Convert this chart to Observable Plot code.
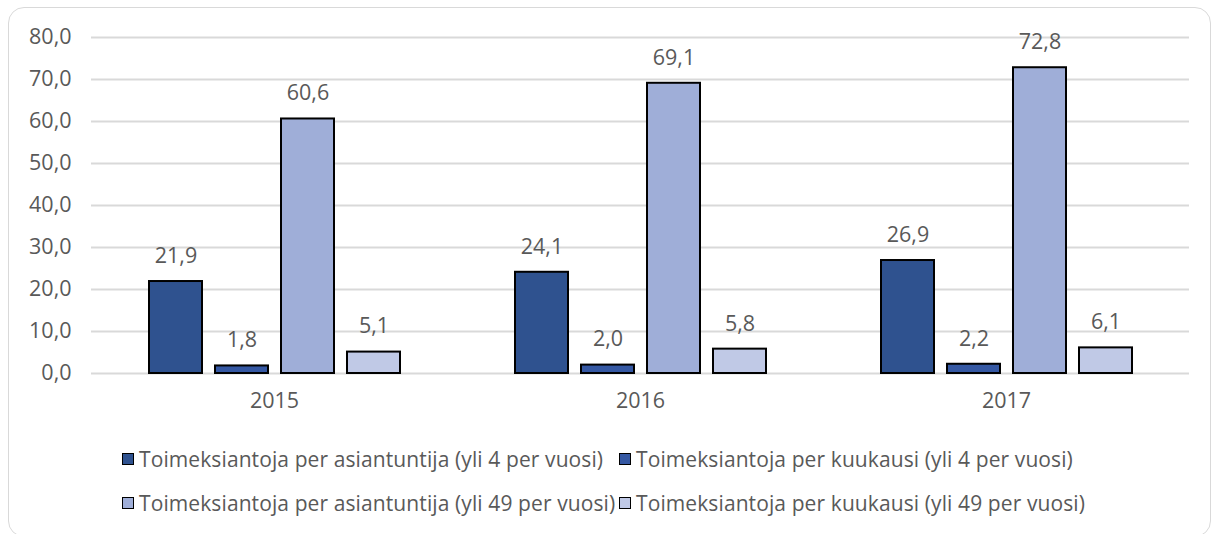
<!DOCTYPE html>
<html>
<head>
<meta charset="utf-8">
<script src="https://cdn.jsdelivr.net/npm/d3@7"></script>
<script src="https://cdn.jsdelivr.net/npm/@observablehq/plot@0.6"></script>
<style>
  html, body { margin: 0; padding: 0; background: #fff; }
  body { width: 1215px; height: 534px; position: relative; overflow: hidden; font-family: "Open Sans", sans-serif; }
  #card { position: absolute; left: 8px; top: 7px; width: 1203px; height: 530px; border: 1.5px solid #d9d9d9; border-radius: 16px; box-sizing: border-box; }
  #chart { position: absolute; left: 0; top: 0; }
  #legend { position: absolute; left: 122px; top: 446px; display: grid; grid-template-columns: 497px auto; row-gap: 18px; color: #595959; font-size: 21px; letter-spacing: 0.1px; line-height: 26px; }
  .item { display: flex; align-items: center; white-space: nowrap; }
  .sw { width: 10px; height: 10px; border: 1.7px solid #000; margin-right: 5px; flex: none; }
</style>
</head>
<body>
<div id="card"></div>
<div id="chart"></div>
<div id="legend"></div>
<script>
const years = ["2015", "2016", "2017"];
const seriesNames = [
  "Toimeksiantoja per asiantuntija (yli 4 per vuosi)",
  "Toimeksiantoja per kuukausi (yli 4 per vuosi)",
  "Toimeksiantoja per asiantuntija (yli 49 per vuosi)",
  "Toimeksiantoja per kuukausi (yli 49 per vuosi)"
];
const s1 = [21.9, 24.1, 26.9];
const s2 = [1.8, 2.0, 2.2];
const s3 = [60.6, 69.1, 72.8];
const s4 = [5.1, 5.8, 6.1];
const seriesColors = ["#2F528F", "#3558A3", "#9FAED8", "#C0C9E6"];
const yTicks = [0, 10, 20, 30, 40, 50, 60, 70, 80];

const allSeries = [s1, s2, s3, s4];
const data = [];
years.forEach((y, i) => {
  seriesNames.forEach((s, j) => data.push({year: y, series: s, value: allSeries[j][i]}));
});
const fmt = d => d.toFixed(1).replace(".", ",");

const chart = Plot.plot({
  width: 1215,
  height: 420,
  marginLeft: 90,
  marginRight: 26,
  marginTop: 37,
  marginBottom: 47,
  style: {fontFamily: "'Open Sans', sans-serif", color: "#595959", background: "transparent"},
  fx: {domain: years, padding: 0, label: null},
  x: {domain: seriesNames, paddingInner: 0.2, paddingOuter: 0.86, axis: null},
  y: {domain: [0, 80], label: null},
  color: {domain: seriesNames, range: seriesColors},
  marks: [
    Plot.gridY(yTicks, {stroke: "#d9d9d9", strokeOpacity: 1, strokeWidth: 1.8}),
    Plot.axisY(yTicks, {tickSize: 0, tickPadding: 20, tickFormat: fmt, fontSize: 21.5, fill: "#595959", label: null}),
    Plot.axisFx({anchor: "bottom", tickSize: 0, tickPadding: 19, fontSize: 21.5, fill: "#595959", label: null}),
    Plot.barY(data, {fx: "year", x: "series", y: "value", fill: "series", stroke: "#000", strokeWidth: 2}),
    Plot.text(data, {fx: "year", x: "series", y: "value", text: d => fmt(d.value), dy: -25.5, lineAnchor: "middle", fontSize: 21.5, fill: "#595959"})
  ]
});
document.getElementById("chart").appendChild(chart);

const legend = document.getElementById("legend");
seriesNames.forEach((s, j) => {
  const it = document.createElement("div");
  it.className = "item";
  const sw = document.createElement("span");
  sw.className = "sw";
  sw.style.background = seriesColors[j];
  const t = document.createElement("span");
  t.textContent = s;
  it.appendChild(sw);
  it.appendChild(t);
  legend.appendChild(it);
});
</script>
</body>
</html>
